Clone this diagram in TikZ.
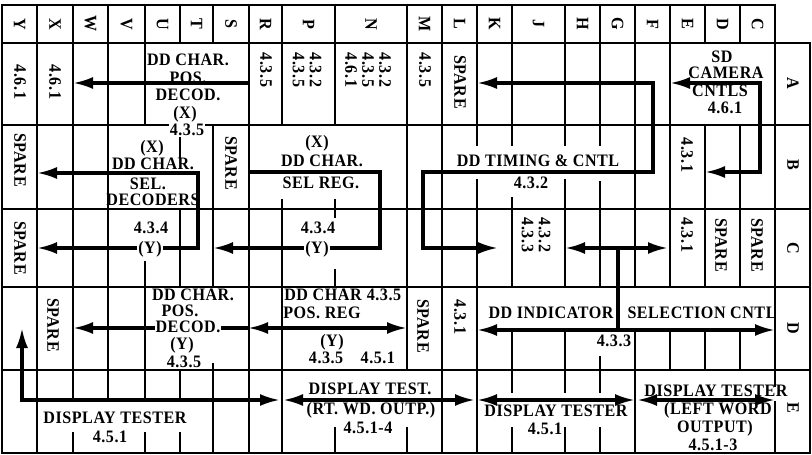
\documentclass[tikz,border=0pt]{standalone}
\usepackage{fontspec}
\setmainfont{Liberation Serif}
\newfontfamily\chartfont{Liberation Serif}[FakeStretch=0.92,LetterSpace=3]
\usetikzlibrary{arrows.meta}
\begin{document}
\begin{tikzpicture}[x=1pt,y=-1pt,
  grid/.style={line width=1.9pt, line cap=rect},
  flow/.style={line width=3.2pt},
  tip/.style={-{Latex[length=20pt,width=12pt]}},
  both/.style={{Latex[length=20pt,width=12pt]}-{Latex[length=20pt,width=12pt]}},
  txt/.style={font=\chartfont\fontsize{17.5}{17}\selectfont\bfseries, inner sep=0pt},
  vtxt/.style={txt, rotate=-90, align=center},
  mask/.style={fill=white, inner sep=1.2pt}]
\useasboundingbox (0,0) rectangle (812,455);
\fill[white] (0,0) rectangle (812,455);

% horizontal grid
\draw[grid] (2,5) -- (775,5);
\foreach \y in {43,125,209,287,370,453} \draw[grid] (2,\y) -- (810,\y);

% vertical grid segments
\foreach \x/\a/\b in {2/5/453, 37/5/453,
  73/5/400, 73/433/453,
  108/5/400,
  145/5/125, 145/262/400, 145/433/453,
  180/5/43, 180/137/157, 180/209/287, 180/370/400, 180/433/453,
  213/5/43, 213/125/287, 213/364/453,
  249/5/453,
  282/5/125, 282/200/453,
  335/5/125, 335/200/217, 335/270/287, 335/428/453,
  407/5/370, 407/428/453,
  442/5/453,
  477/5/145, 477/180/453,
  512/5/145, 512/198/287, 512/332/392, 512/428/453,
  565/5/145, 565/180/287, 565/330/392, 565/428/453,
  600/5/145, 600/182/287, 600/357/392, 600/428/453,
  635/5/287, 635/330/453,
  670/5/287, 670/330/370,
  705/5/43, 705/125/287, 705/330/370,
  740/5/43, 740/125/287, 740/330/370,
  775/5/386, 775/402/453,
  810/43/453}
  \draw[grid] (\x,\a) -- (\x,\b);

% flow lines
\draw[flow,tip] (249,83) -- (73,83);
\draw[flow,both] (705,172) -- (760,172) -- (760,83) -- (670,83);
\draw[flow,both] (477,83) -- (653,83) -- (653,172) -- (423,172) -- (423,248) -- (498,248);
\draw[flow,tip] (249,172) -- (380,172) -- (380,248) -- (213,248);
\draw[flow,both] (37,173) -- (198,173) -- (198,248) -- (37,248);
\draw[flow,both] (565,248) -- (668,248);
\draw[flow] (618,248) -- (618,330);
\draw[flow,both] (477,330) -- (775,330);
\draw[flow,tip] (248,328) -- (73,328);
\draw[flow,both] (248,328) -- (407,328);
\draw[flow,both] (22,328) -- (22,400) -- (280,400);
\draw[flow,both] (283,400) -- (475,400);
\draw[flow,both] (477,400) -- (635,400);
\draw[flow,both] (637,400) -- (775,400);

% header letters
\foreach \l/\x in {Y/19.5, X/55, W/90.5, V/126.5, U/162.5, T/196.5, S/231, R/265.5,
  P/308.5, N/371, M/424.5, L/459.5, K/494.5, J/538.5, H/582.5, G/617.5,
  F/652.5, E/687.5, D/722.5, C/757.5}
  \node[vtxt] (h\l) at (\x,24) {\l};
% row labels
\foreach \l/\y in {A/83, B/165, C/248, D/328, E/408}
  \node[vtxt] (r\l) at (793,\y) {\l};

% row A
\node[vtxt] (yA) at (20,82) {4.6.1};
\node[vtxt] (xA) at (55,82) {4.6.1};
\node[txt] (a1) at (188,60) {DD CHAR.};
\node[txt] (a2) at (188,78) {POS.};
\node[txt] (a3) at (188,95) {DECOD.};
\node[txt] (a4) at (185,114) {(X)};
\node[txt,mask] (a5) at (187,130) {4.3.5};
\node[vtxt] (rA) at (266,70) {4.3.5};
\node[vtxt] (pA) at (307,70) {4.3.2\\4.3.5};
\node[vtxt] (nA) at (368,70) {4.3.2\\4.3.5\\4.6.1};
\node[vtxt] (mA) at (425,70) {4.3.5};
\node[vtxt] (lA) at (460,82) {SPARE};
\node[txt] (s1) at (722,57) {SD};
\node[txt] (s2) at (726,73) {CAMERA};
\node[txt] (s3) at (720,91) {CNTLS};
\node[txt] (s4) at (725,108) {4.6.1};

% row B
\node[vtxt] (yB) at (20,160) {SPARE};
\node[txt] (b1) at (152,148) {(X)};
\node[txt] (b2) at (153,164) {DD CHAR.};
\node[txt] (b3) at (148,184) {SEL.};
\node[txt] (b4) at (153,200) {DECODERS};
\node[vtxt] (sB) at (231,163) {SPARE};
\node[txt] (b5) at (317,143) {(X)};
\node[txt] (b6) at (322,161) {DD CHAR.};
\node[txt] (b7) at (321,183) {SEL REG.};
\node[txt] (b8) at (538,161) {DD TIMING \& CNTL};
\node[txt] (b9) at (531,183) {4.3.2};
\node[vtxt] (eB) at (687,155) {4.3.1};

% row C
\node[vtxt] (yC) at (20,248) {SPARE};
\node[txt] (c1) at (151,228) {4.3.4};
\node[txt,mask] (c2) at (150,249) {(Y)};
\node[txt] (c3) at (318,228) {4.3.4};
\node[txt,mask] (c4) at (317,249) {(Y)};
\node[vtxt] (jC) at (536,235) {4.3.2\\4.3.3};
\node[vtxt] (eC) at (687,235) {4.3.1};
\node[vtxt] (dC) at (721,245) {SPARE};
\node[vtxt] (cC) at (757,245) {SPARE};

% row D
\node[vtxt] (xD) at (53,325) {SPARE};
\node[txt] (d1) at (193,295) {DD CHAR.};
\node[txt] (d2) at (180,311) {POS.};
\node[txt,mask,inner sep=0.5pt] (d3) at (188,327) {DECOD.};
\node[txt] (d4) at (182,345) {(Y)};
\node[txt] (d5) at (184,362) {4.3.5};
\node[txt] (d6) at (323,295) {DD CHAR};
\node[txt] (d7) at (384,295) {4.3.5};
\node[txt] (d8) at (322,313) {POS. REG};
\node[txt] (d9) at (332,342) {(Y)};
\node[txt] (d10) at (352,358) {4.3.5\quad 4.5.1};
\node[vtxt] (mD) at (423,326) {SPARE};
\node[vtxt] (lD) at (460,317) {4.3.1};
\node[txt] (d11) at (551,313) {DD INDICATOR};
\node[txt] (d12) at (702,313) {SELECTION CNTL};
\node[txt] (d13) at (614,341) {4.3.3};

% row E
\node[txt] (e1) at (115,418) {DISPLAY TESTER};
\node[txt] (e2) at (110,437) {4.5.1};
\node[txt] (e3) at (370,389) {DISPLAY TEST.};
\node[txt] (e4) at (371,410) {(RT. WD. OUTP.)};
\node[txt] (e5) at (368,428) {4.5.1-4};
\node[txt] (e6) at (556,411) {DISPLAY TESTER};
\node[txt] (e7) at (545,429) {4.5.1};
\node[txt] (e8) at (716,391) {DISPLAY TESTER};
\node[txt] (e9) at (718,410) {(LEFT WORD};
\node[txt] (e10) at (715,428) {OUTPUT)};
\node[txt] (e11) at (713,445) {4.5.1-3};
\end{tikzpicture}
\end{document}
